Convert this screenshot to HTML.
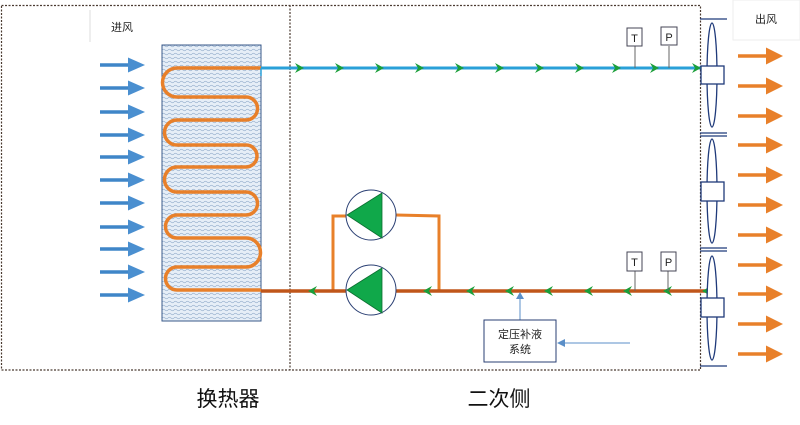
<!DOCTYPE html>
<html><head><meta charset="utf-8"><style>
html,body{margin:0;padding:0;background:#fff;}
svg{display:block;}
text{font-family:"Liberation Sans","Noto Sans CJK SC",sans-serif;}
</style></head><body>
<svg width="800" height="425" viewBox="0 0 800 425" xmlns="http://www.w3.org/2000/svg">
<defs>
<pattern id="wv" width="6" height="4" patternUnits="userSpaceOnUse">
<rect width="6" height="4" fill="#e6eef7"/>
<path d="M0,2 Q1.5,0.5 3,2 T6,2" fill="none" stroke="#9bb3cf" stroke-width="0.7"/>
</pattern>
<g id="chR"><path d="M-5,-5 L4,0 L-5,5 L-2,0 Z" fill="#1a9e3a"/></g>
<g id="chL"><path d="M5,-5 L-4,0 L5,5 L2,0 Z" fill="#1a9e3a"/></g>
<g id="ba"><line x1="100" y1="0" x2="130" y2="0" stroke="#3f86c8" stroke-width="3.5"/><path d="M128,-7.5 L145,0 L128,7.5 Z" fill="#4a8fd0"/></g>
<g id="oa"><line x1="738" y1="0" x2="768" y2="0" stroke="#e8802a" stroke-width="3.5"/><path d="M766,-8.5 L783,0 L766,8.5 Z" fill="#e8802a"/></g>
</defs>
<rect x="1.5" y="5.5" width="699" height="364.5" fill="none" stroke="#4a3a30" stroke-width="1.2" stroke-dasharray="2,1.5"/>
<line x1="290" y1="5" x2="290" y2="370" stroke="#4a3a30" stroke-width="1.2" stroke-dasharray="2,1.5"/>
<rect x="90" y="10" width="65" height="32" fill="#fff"/>
<line x1="90" y1="10" x2="90" y2="42" stroke="#ddd"/>
<text x="122" y="31" font-size="11" text-anchor="middle" fill="#222">进风</text>
<rect x="733" y="0" width="67" height="40" fill="#fff" stroke="#eee"/>
<text x="766" y="23" font-size="11" text-anchor="middle" fill="#222">出风</text>
<use href="#ba" y="65"/><use href="#ba" y="88"/><use href="#ba" y="112"/><use href="#ba" y="135"/><use href="#ba" y="157"/><use href="#ba" y="180"/><use href="#ba" y="203"/><use href="#ba" y="227"/><use href="#ba" y="249"/><use href="#ba" y="272"/><use href="#ba" y="295"/>
<rect x="162" y="45" width="99" height="276" fill="url(#wv)" stroke="#3a5a8a" stroke-width="1"/>
<path d="M261,68 L177,68 A14.5,14.5 0 0 0 177,97 L246,97 A11.5,11.5 0 0 1 246,120 L177,120 A12.5,12.5 0 0 0 177,145 L246,145 A11,11 0 0 1 246,167 L177,167 A12.5,12.5 0 0 0 177,192 L246,192 A11.5,11.5 0 0 1 246,215 L177,215 A11.5,11.5 0 0 0 177,238 L246,238 A14.5,14.5 0 0 1 246,267 L177,267 A11.5,11.5 0 0 0 177,290 L261,290" fill="none" stroke="#e8802a" stroke-width="3.5"/>
<line x1="261" y1="68" x2="705" y2="68" stroke="#2aa0d8" stroke-width="3"/>
<line x1="261" y1="68" x2="261" y2="76" stroke="#2aa0d8" stroke-width="1.5"/>
<use href="#chR" x="300" y="68"/><use href="#chR" x="340" y="68"/><use href="#chR" x="380" y="68"/><use href="#chR" x="420" y="68"/><use href="#chR" x="460" y="68"/><use href="#chR" x="500" y="68"/><use href="#chR" x="540" y="68"/><use href="#chR" x="580" y="68"/><use href="#chR" x="617" y="68"/><use href="#chR" x="655" y="68"/><use href="#chR" x="697" y="68"/>
<line x1="635" y1="46" x2="635" y2="68" stroke="#666"/>
<rect x="627" y="28" width="15" height="18" fill="#fff" stroke="#445"/>
<text x="634.5" y="42" font-size="11" text-anchor="middle" fill="#222">T</text>
<line x1="669" y1="46" x2="669" y2="68" stroke="#666"/>
<rect x="661" y="27" width="16" height="18" fill="#fff" stroke="#445"/>
<text x="669" y="41" font-size="11" text-anchor="middle" fill="#222">P</text>
<path d="M333,291 L333,216 L346,216 M396,215 L439,216 L439,291" fill="none" stroke="#e8802a" stroke-width="3"/>
<line x1="261" y1="291" x2="705" y2="291" stroke="#c0561a" stroke-width="3.5"/>
<use href="#chL" x="312" y="291"/><use href="#chL" x="427" y="291"/><use href="#chL" x="470" y="291"/><use href="#chL" x="509" y="291"/><use href="#chL" x="548" y="291"/><use href="#chL" x="588" y="291"/><use href="#chL" x="627" y="291"/><use href="#chL" x="667" y="291"/><use href="#chL" x="706" y="291"/>
<line x1="635" y1="271" x2="635" y2="291" stroke="#666"/>
<rect x="627" y="252" width="15" height="19" fill="#fff" stroke="#445"/>
<text x="634.5" y="266" font-size="11" text-anchor="middle" fill="#222">T</text>
<line x1="668" y1="271" x2="668" y2="291" stroke="#666"/>
<rect x="661" y="252" width="15" height="19" fill="#fff" stroke="#445"/>
<text x="668.5" y="266" font-size="11" text-anchor="middle" fill="#222">P</text>
<circle cx="371" cy="215" r="25" fill="#fff" stroke="#2a3f73" stroke-width="1"/>
<path d="M347,215 L382,193 L382,238 Z" fill="#10a84a" stroke="#0c6e30" stroke-width="0.8"/>
<circle cx="371" cy="290" r="25" fill="#fff" stroke="#2a3f73" stroke-width="1"/>
<path d="M347,290 L382,268 L382,313 Z" fill="#10a84a" stroke="#0c6e30" stroke-width="0.8"/>
<line x1="520" y1="320" x2="520" y2="296" stroke="#5b8fc8" stroke-width="1"/>
<path d="M516,299 L520,292 L524,299 Z" fill="#5b8fc8"/>
<rect x="484" y="320" width="72" height="42" fill="#fff" stroke="#2a3f73" stroke-width="1"/>
<text x="520" y="338" font-size="11" text-anchor="middle" fill="#222">定压补液</text>
<text x="520" y="353" font-size="11" text-anchor="middle" fill="#222">系统</text>
<line x1="630" y1="343" x2="562" y2="343" stroke="#5b8fc8" stroke-width="1"/>
<path d="M565,339 L557,343 L565,347 Z" fill="#5b8fc8"/>
<g stroke="#1f3a7a" stroke-width="1.3" fill="#fff">
<line x1="700" y1="19" x2="727" y2="19"/>
<line x1="700" y1="133" x2="727" y2="133"/><line x1="700" y1="136" x2="727" y2="136"/>
<line x1="700" y1="248" x2="727" y2="248"/><line x1="700" y1="251" x2="727" y2="251"/>
<line x1="700" y1="366" x2="727" y2="366"/>
<ellipse cx="712" cy="75" rx="5" ry="52"/>
<ellipse cx="712" cy="191" rx="5" ry="52"/>
<ellipse cx="712" cy="308" rx="5" ry="52"/>
<rect x="701" y="66" width="23" height="18"/>
<rect x="701" y="182" width="23" height="19"/>
<rect x="701" y="298" width="23" height="19"/>
</g>
<use href="#oa" y="56"/><use href="#oa" y="86"/><use href="#oa" y="116"/><use href="#oa" y="145"/><use href="#oa" y="175"/><use href="#oa" y="205"/><use href="#oa" y="235"/><use href="#oa" y="265"/><use href="#oa" y="294"/><use href="#oa" y="324"/><use href="#oa" y="354"/>
<text x="228" y="406" font-size="21" text-anchor="middle" fill="#111">换热器</text>
<text x="499" y="406" font-size="21" text-anchor="middle" fill="#111">二次侧</text>
</svg>
</body></html>
